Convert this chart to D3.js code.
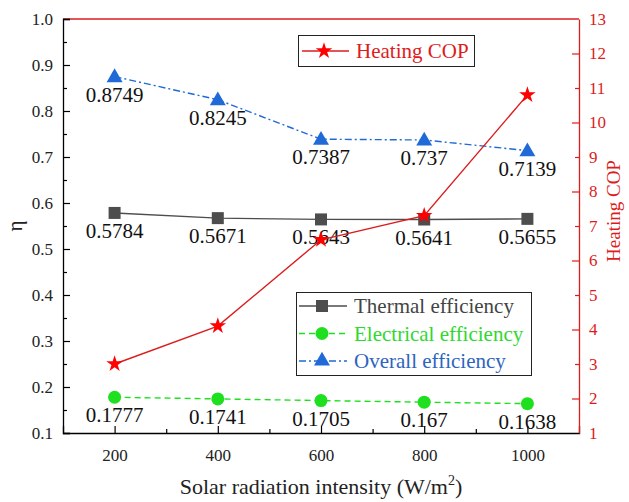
<!DOCTYPE html>
<html>
<head>
<meta charset="utf-8">
<script src="https://cdn.jsdelivr.net/npm/d3@7"></script>
<style>
  html, body { margin: 0; padding: 0; background: #fff; }
  svg { display: block; }
  svg text { font-family: "Liberation Serif", "Times New Roman", Times, Tinos, "DejaVu Serif", serif; }
</style>
</head>
<body>
<svg id="chart" width="629" height="502"></svg>
<script>
// Solar radiation intensity (W/m²)
const radiation = [200, 400, 600, 800, 1000];
// Efficiencies (left axis, η)
const thermal = [0.5784, 0.5671, 0.5643, 0.5641, 0.5655];
const electrical = [0.1777, 0.1741, 0.1705, 0.167, 0.1638];
const overall = [0.8749, 0.8245, 0.7387, 0.737, 0.7139];
// Heating COP (right axis)
const heatingCOP = [3.0, 4.1, 6.6, 7.3, 10.8];

const xTicks = [200, 400, 600, 800, 1000];
const yTicks = [0.1, 0.2, 0.3, 0.4, 0.5, 0.6, 0.7, 0.8, 0.9, 1.0];
const copTicks = [1, 2, 3, 4, 5, 6, 7, 8, 9, 10, 11, 12, 13];

const svg = d3.select("#chart");
const L = 63, R = 579, T = 19, B = 433;

const x = d3.scaleLinear().domain([100, 1100]).range([L, R]);
const y = d3.scaleLinear().domain([0.1, 1.0]).range([B, T]);
const y2 = d3.scaleLinear().domain([1, 13]).range([B, T]);

const RED = "#dd1c1c";
const GRAY = "#4d4d4d";
const GREEN = "#1fe01f";
const BLUE = "#1f6ad6";

// Frame: black left/bottom, red top/right
svg.append("line").attr("x1", L).attr("x2", R).attr("y1", T).attr("y2", T)
  .attr("stroke", RED).attr("stroke-width", 1.3);

// Bottom axis (ticks inward)
const xAxis = svg.append("g").attr("transform", `translate(0,${B})`)
  .call(d3.axisBottom(x).tickValues(xTicks).tickSize(-7).tickPadding(16).tickFormat(d3.format("d")));
svg.append("g").attr("transform", `translate(0,${B})`)
  .call(d3.axisBottom(x).tickValues([300, 500, 700, 900]).tickSize(-4).tickFormat(""))
  .call(g => g.select(".domain").remove());

// Left axis
const yAxis = svg.append("g").attr("transform", `translate(${L},0)`)
  .call(d3.axisLeft(y).tickValues(yTicks).tickSize(-7).tickPadding(10).tickFormat(d3.format(".1f")));
svg.append("g").attr("transform", `translate(${L},0)`)
  .call(d3.axisLeft(y).tickValues(d3.range(0.15, 1.0, 0.1)).tickSize(-4).tickFormat(""))
  .call(g => g.select(".domain").remove());

// Right axis (red)
const y2Axis = svg.append("g").attr("class", "cop-axis").attr("transform", `translate(${R},0)`)
  .call(d3.axisRight(y2).tickValues(copTicks).tickSize(0).tickPadding(10).tickFormat(d3.format("d")));
svg.append("g").attr("class", "cop-axis").attr("transform", `translate(${R},0)`)
  .call(d3.axisRight(y2).tickValues([2, 4, 6, 8, 10, 12]).tickSize(-7).tickFormat(""))
  .call(g => g.select(".domain").remove());
svg.append("g").attr("class", "cop-axis").attr("transform", `translate(${R},0)`)
  .call(d3.axisRight(y2).tickValues([3, 5, 7, 9, 11]).tickSize(-4).tickFormat(""))
  .call(g => g.select(".domain").remove());

svg.selectAll("g").attr("font-family", null);
[xAxis, yAxis].forEach(g => {
  g.selectAll("path.domain").attr("stroke", "#000").attr("stroke-width", 1.3);
  g.selectAll("text").attr("font-size", 17).attr("fill", "#222");
});
svg.selectAll(".tick line").attr("stroke-width", 1.2);
y2Axis.selectAll("path.domain").attr("stroke", RED).attr("stroke-width", 1.3);
y2Axis.selectAll("text").attr("font-size", 17).attr("fill", RED);
svg.selectAll("g.cop-axis .tick line").attr("stroke", RED);

// Axis titles
svg.append("text").attr("transform", `translate(22,${(T + B) / 2}) rotate(-90)`)
  .attr("text-anchor", "middle").attr("font-size", 21).attr("fill", "#222").text("η");
svg.append("text").attr("transform", `translate(620,${(T + B) / 2 - 15}) rotate(-90)`)
  .attr("text-anchor", "middle").attr("font-size", 19).attr("fill", RED).text("Heating COP");
const xt = svg.append("text").attr("x", (L + R) / 2).attr("y", 494)
  .attr("text-anchor", "middle").attr("font-size", 22).attr("fill", "#222");
xt.append("tspan").text("Solar radiation intensity (W/m");
xt.append("tspan").attr("dy", -9).attr("font-size", 14).text("2");
xt.append("tspan").attr("dy", 9).text(")");

// Series
const pts = vals => radiation.map((r, i) => [r, vals[i]]);
const lineL = d3.line().x(d => x(d[0])).y(d => y(d[1]));
const lineR = d3.line().x(d => x(d[0])).y(d => y2(d[1]));

const series = [
  { name: "Thermal efficiency", vals: thermal, color: GRAY, dash: null, sym: d3.symbolSquare, size: 144 },
  { name: "Electrical efficiency", vals: electrical, color: GREEN, dash: "6,4", sym: d3.symbolCircle, size: 133 },
  { name: "Overall efficiency", vals: overall, color: BLUE, dash: "7,3,2,3", sym: d3.symbolTriangle, size: 110 }
];

series.forEach(s => {
  svg.append("path").datum(pts(s.vals)).attr("d", lineL)
    .attr("fill", "none").attr("stroke", s.color).attr("stroke-width", 1.4)
    .attr("stroke-dasharray", s.dash);
});

// Value labels
series.forEach(s => {
  svg.append("g").selectAll("text").data(pts(s.vals)).join("text")
    .attr("x", d => x(d[0])).attr("y", d => y(d[1]) + 25)
    .attr("text-anchor", "middle").attr("font-size", 21).attr("fill", "#111")
    .text(d => String(d[1]));
});

series.forEach(s => {
  svg.append("g").selectAll("path").data(pts(s.vals)).join("path")
    .attr("transform", d => `translate(${x(d[0])},${y(d[1]) + (s.sym === d3.symbolTriangle ? 1 : 0)})`)
    .attr("d", d3.symbol(s.sym, s.size)).attr("fill", s.color);
});

// Heating COP on the right axis
svg.append("path").datum(pts(heatingCOP)).attr("d", lineR)
  .attr("fill", "none").attr("stroke", RED).attr("stroke-width", 1.4);
svg.append("g").selectAll("path").data(pts(heatingCOP)).join("path")
  .attr("transform", d => `translate(${x(d[0])},${y2(d[1])})`)
  .attr("d", d3.symbol(d3.symbolStar, 85)).attr("fill", "#ff0000");

// Legend: Heating COP
const lg1 = svg.append("g");
lg1.append("rect").attr("x", 298.5).attr("y", 35.5).attr("width", 176).attr("height", 31)
  .attr("fill", "#fff").attr("stroke", "#222").attr("stroke-width", 1);
lg1.append("line").attr("x1", 302).attr("x2", 349).attr("y1", 51).attr("y2", 51)
  .attr("stroke", RED).attr("stroke-width", 1.6);
lg1.append("path").attr("transform", "translate(324,51)")
  .attr("d", d3.symbol(d3.symbolStar, 85)).attr("fill", "#ff0000");
lg1.append("text").attr("x", 356).attr("y", 58).attr("font-size", 21).attr("fill", RED).text("Heating COP");

// Legend: efficiencies
const lg2 = svg.append("g");
lg2.append("rect").attr("x", 296.5).attr("y", 292.5).attr("width", 235).attr("height", 83)
  .attr("fill", "#fff").attr("stroke", "#222").attr("stroke-width", 1);
const textColors = ["#444", "#2fd82f", "#2d64c0"];
series.forEach((s, i) => {
  const cy = 306 + i * 27.5;
  lg2.append("line").attr("x1", 299).attr("x2", 347).attr("y1", cy).attr("y2", cy)
    .attr("stroke", s.color).attr("stroke-width", 1.5).attr("stroke-dasharray", s.dash);
  lg2.append("path").attr("transform", `translate(322,${cy})`)
    .attr("d", d3.symbol(s.sym, s.size)).attr("fill", s.color);
  lg2.append("text").attr("x", 354).attr("y", cy + 7).attr("font-size", 21)
    .attr("fill", textColors[i]).text(s.name);
});
</script>
</body>
</html>
